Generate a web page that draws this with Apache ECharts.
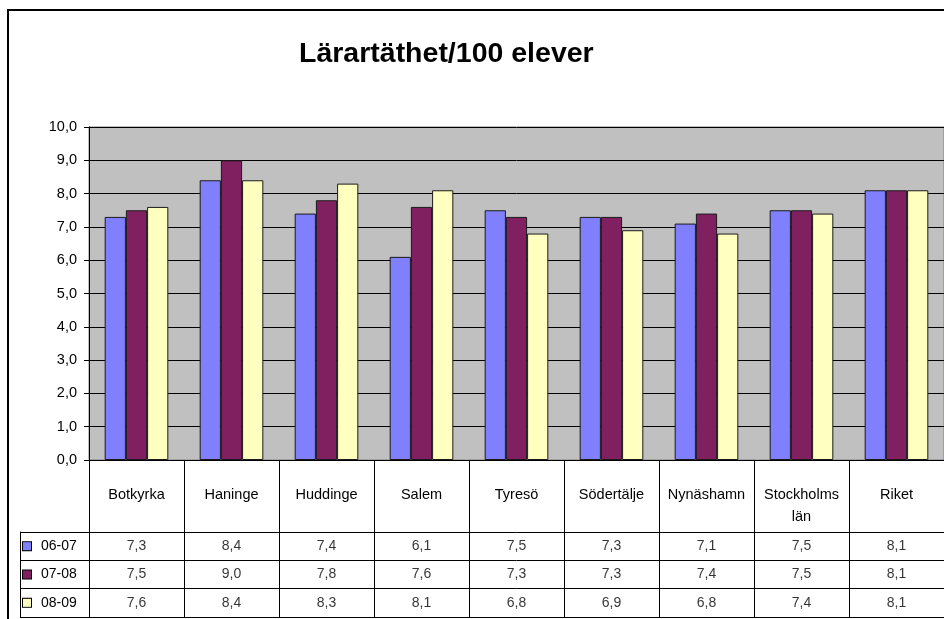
<!DOCTYPE html>
<html>
<head>
<meta charset="utf-8">
<script src="https://cdn.jsdelivr.net/npm/echarts@6/dist/echarts.min.js"></script>
<style>
  html, body { margin: 0; padding: 0; background: #fff; }
  #chart { width: 944px; height: 619px; }
</style>
</head>
<body>
<div id="chart"></div>
<script>
// kommuner / kategorier
var categories = ['Botkyrka', 'Haninge', 'Huddinge', 'Salem', 'Tyresö', 'Södertälje', 'Nynäshamn', 'Stockholms län', 'Riket']
var seriesNames = ['06-07', '07-08', '08-09']
var values0607 = [7.3, 8.4, 7.4, 6.1, 7.5, 7.3, 7.1, 7.5, 8.1]
var values0708 = [7.5, 9.0, 7.8, 7.6, 7.3, 7.3, 7.4, 7.5, 8.1]
var values0809 = [7.6, 8.4, 8.3, 8.1, 6.8, 6.9, 6.8, 7.4, 8.1]

var allValues = [values0607, values0708, values0809]
var colors = ['#8080ff', '#802060', '#ffffc0']
var font = "'Liberation Sans', Arial, sans-serif"

function fmt(v) {
  return v.toFixed(1).replace('.', ',')
}

var chart = echarts.init(document.getElementById('chart'))

var richLegend = {
  t: { fontSize: 14, color: '#000', fontFamily: font, padding: [0, 0, 0, 10] }
}
colors.forEach(function (c, i) {
  richLegend['s' + i] = {
    width: 8,
    height: 8,
    backgroundColor: c,
    borderColor: '#000',
    borderWidth: 1
  }
})

var barSeries = allValues.map(function (vals, i) {
  return {
    name: seriesNames[i],
    type: 'bar',
    xAxisIndex: 0,
    yAxisIndex: 0,
    barGap: '0%',
    barCategoryGap: '33%',
    itemStyle: {
      color: colors[i],
      borderColor: '#1a1a1a',
      borderWidth: 1
    },
    data: vals
  }
})

// texten i datatabellen
var tableSeries = allValues.map(function (vals, i) {
  return {
    name: 'tabell ' + seriesNames[i],
    type: 'scatter',
    xAxisIndex: 1,
    yAxisIndex: 1,
    symbolSize: 0,
    silent: true,
    label: {
      show: true,
      position: 'inside',
      fontSize: 14,
      fontFamily: font,
      color: '#000',
      formatter: function (p) {
        return fmt(p.value[2])
      }
    },
    data: vals.map(function (v, j) {
      return [categories[j], seriesNames[i], v]
    })
  }
})

chart.setOption({
  animation: false,
  textStyle: { fontFamily: font },
  title: {
    text: 'Lärartäthet/100 elever',
    left: 294,
    top: 35,
    textStyle: {
      fontSize: 28.5,
      fontWeight: 'bold',
      color: '#000',
      fontFamily: font
    }
  },
  graphic: [
    {
      type: 'rect',
      silent: true,
      shape: { x: 8, y: 10, width: 1000, height: 700 },
      style: { fill: 'none', stroke: '#000', lineWidth: 2 }
    }
  ],
  grid: [
    {
      left: 89,
      top: 127,
      width: 861,
      height: 333,
      show: true,
      backgroundColor: '#c0c0c0',
      borderColor: '#808080',
      borderWidth: 1
    },
    {
      left: 89,
      top: 532,
      width: 861,
      height: 85,
      show: false
    }
  ],
  xAxis: [
    {
      type: 'category',
      gridIndex: 0,
      data: categories,
      axisLine: { lineStyle: { color: '#000', width: 1 } },
      axisTick: { show: true, interval: 0, length: 72, lineStyle: { color: '#000' } },
      axisLabel: {
        interval: 0,
        margin: 24,
        fontSize: 14.5,
        lineHeight: 22,
        color: '#000',
        fontFamily: font,
        formatter: function (v) {
          return v.replace(' ', '\n')
        }
      },
      splitLine: { show: false }
    },
    {
      type: 'category',
      gridIndex: 1,
      data: categories,
      axisLine: { lineStyle: { color: '#000', width: 1 } },
      axisTick: { show: false },
      axisLabel: { show: false },
      splitLine: { show: true, interval: 0, lineStyle: { color: '#000', width: 1 } }
    }
  ],
  yAxis: [
    {
      type: 'value',
      gridIndex: 0,
      min: 0,
      max: 10,
      interval: 1,
      axisLine: { show: true, lineStyle: { color: '#000', width: 1 } },
      axisTick: { show: true, length: 5, lineStyle: { color: '#000' } },
      axisLabel: {
        margin: 12,
        fontSize: 14.5,
        color: '#000',
        fontFamily: font,
        formatter: fmt
      },
      splitLine: { show: true, lineStyle: { color: '#000', width: 1 } }
    },
    {
      type: 'category',
      gridIndex: 1,
      inverse: true,
      data: seriesNames,
      axisLine: { show: true, lineStyle: { color: '#000', width: 1 } },
      axisTick: { show: true, interval: 0, length: 69, lineStyle: { color: '#000' } },
      axisLabel: {
        interval: 0,
        align: 'left',
        margin: 66,
        formatter: function (v, i) {
          return '{s' + i + '|}{t|' + v + '}'
        },
        rich: richLegend
      },
      splitLine: { show: true, interval: 0, lineStyle: { color: '#000', width: 1 } }
    },
    {
      type: 'category',
      gridIndex: 1,
      position: 'left',
      offset: 69,
      data: seriesNames,
      axisLine: { show: true, lineStyle: { color: '#000', width: 1 } },
      axisTick: { show: false },
      axisLabel: { show: false },
      splitLine: { show: false }
    }
  ],
  series: barSeries.concat(tableSeries)
})
</script>
</body>
</html>
